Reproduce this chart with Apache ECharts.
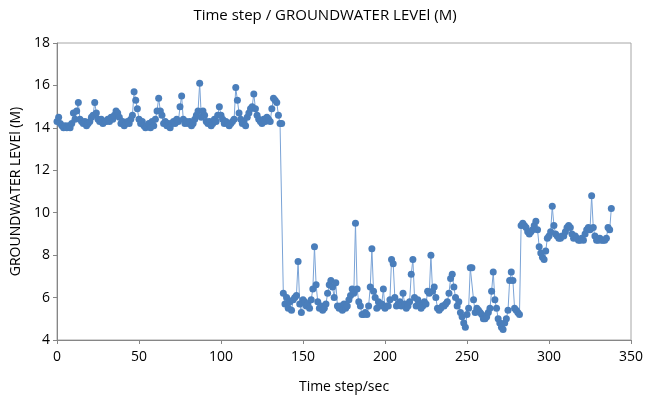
<!DOCTYPE html>
<html>
<head>
<meta charset="utf-8">
<title>Groundwater level</title>
<script src="https://cdn.jsdelivr.net/npm/echarts@6/dist/echarts.min.js"></script>
<style>
html,body{margin:0;padding:0;background:#fff;}
#chart{width:650px;height:399px;}
</style>
</head>
<body>
<div id="chart"></div>
<script>
// levels, one per time step
var phaseHigh = [ // t = 0..137
	14.3,14.5,14.2,14.1,14.0,14.1,14.0,14.1,14.0,14.2,
	14.7,14.4,14.8,15.2,14.4,14.3,14.2,14.3,14.1,14.2,
	14.3,14.5,14.6,15.2,14.7,14.4,14.3,14.4,14.2,14.3,
	14.3,14.4,14.3,14.5,14.4,14.6,14.8,14.7,14.5,14.2,
	14.3,14.1,14.2,14.3,14.2,14.4,14.6,15.7,15.3,14.9,
	14.4,14.2,14.3,14.1,14.0,14.1,14.2,14.0,14.3,14.1,
	14.4,14.8,15.4,14.8,14.6,14.2,14.3,14.1,14.2,14.0,
	14.2,14.3,14.2,14.4,14.3,15.0,15.5,14.4,14.2,14.3,
	14.2,14.3,14.1,14.2,14.4,14.6,14.8,16.1,14.5,14.8,
	14.6,14.3,14.2,14.3,14.1,14.2,14.4,14.3,14.6,15.0,
	14.6,14.4,14.2,14.3,14.2,14.1,14.2,14.3,14.4,15.9,
	15.3,14.7,14.4,14.2,14.3,14.1,14.5,14.7,14.9,15.0,
	15.6,14.9,14.6,14.4,14.3,14.2,14.4,14.3,14.5,14.4,
	14.3,14.9,15.4,15.3,15.2,14.6,14.2,14.2
];
var phaseLow = [ // t = 138..283
	6.2,5.7,6.0,5.5,5.8,5.4,5.9,6.0,6.1,7.7,
	5.7,5.3,5.9,5.8,5.6,5.7,5.5,5.9,6.4,8.4,
	6.6,5.8,5.5,5.6,5.4,5.5,5.7,6.2,6.6,6.8,
	6.5,6.0,6.7,5.6,5.5,5.6,5.4,5.7,5.5,5.6,
	5.9,6.1,6.4,6.2,9.5,6.4,5.8,5.6,5.2,5.2,
	5.3,5.2,5.6,6.5,8.3,6.3,6.0,5.5,5.8,5.6,
	5.7,6.4,5.5,5.6,5.6,5.9,7.8,7.6,6.0,5.6,
	5.7,5.8,5.6,6.2,5.7,5.5,5.6,5.8,7.1,7.8,
	6.0,5.6,5.9,5.7,5.5,5.6,5.8,5.7,6.3,6.2,
	8.0,6.3,6.5,6.0,5.5,5.4,5.5,5.6,5.6,5.7,
	5.8,6.2,6.9,7.1,6.5,6.0,5.6,5.8,5.3,5.1,
	4.8,4.6,5.2,5.5,7.4,7.4,5.9,5.3,5.5,5.4,
	5.3,5.2,5.0,5.0,5.1,5.3,5.5,6.3,7.2,5.9,
	5.5,5.0,4.8,4.6,4.5,4.8,5.0,5.4,6.8,7.2,
	6.8,5.5,5.4,5.3,5.2,9.4
];
var phaseMid = [ // t = 284..338
	9.5,9.4,9.3,9.1,9.0,9.1,9.2,9.4,9.6,9.2,
	8.4,8.1,7.9,7.8,8.2,8.8,8.9,9.1,10.3,9.4,
	9.0,8.9,8.8,8.8,8.9,8.9,9.1,9.3,9.4,9.3,
	9.0,8.8,8.9,8.8,8.7,8.7,8.8,8.7,9.0,9.2,
	9.3,9.2,10.8,9.3,8.9,8.7,8.7,8.8,8.7,8.7,
	8.7,8.8,9.3,9.2,10.2
];
var xTicks = [0, 50, 100, 150, 200, 250, 300, 350];
var yTicks = [4, 6, 8, 10, 12, 14, 16, 18];

var levels = phaseHigh.concat(phaseLow, phaseMid);
var points = [];
for (var i = 0; i < levels.length; i++) {
	points.push([i, levels[i]]);
}

var font = "'Open Sans', 'Noto Sans', sans-serif";
var chart = echarts.init(document.getElementById('chart'), null, {renderer: 'canvas'});
var option = {
	animation: false,
	title: {
		text: 'Time step / GROUNDWATER LEVEl (M)',
		left: 'center',
		top: 3,
		textStyle: {fontFamily: font, fontSize: 15, fontWeight: 'normal', color: '#000'}
	},
	grid: {
		show: true,
		left: 57, right: 19, top: 43, bottom: 56,
		borderColor: '#a6a6a6', borderWidth: 1,
		containLabel: false
	},
	xAxis: {
		type: 'value',
		min: xTicks[0], max: xTicks[xTicks.length - 1], interval: 50,
		name: 'Time step/sec',
		nameLocation: 'middle',
		nameGap: 40,
		nameTextStyle: {fontFamily: font, fontSize: 14, color: '#000'},
		axisLine: {show: true, lineStyle: {color: '#868686'}},
		axisTick: {show: true, inside: false, length: 4, lineStyle: {color: '#868686'}},
		axisLabel: {fontFamily: font, fontSize: 14, color: '#000', margin: 10},
		splitLine: {show: false}
	},
	yAxis: {
		type: 'value',
		min: yTicks[0], max: yTicks[yTicks.length - 1], interval: 2,
		name: 'GROUNDWATER LEVEl (M)',
		nameLocation: 'middle',
		nameGap: 32,
		nameTextStyle: {fontFamily: font, fontSize: 14, color: '#000'},
		axisLine: {show: true, lineStyle: {color: '#868686'}},
		axisTick: {show: true, inside: false, length: 4, lineStyle: {color: '#868686'}},
		axisLabel: {fontFamily: font, fontSize: 14, color: '#000', margin: 7},
		splitLine: {show: false}
	},
	series: [{
		name: 'Groundwater level',
		type: 'line',
		data: points,
		symbol: 'circle',
		symbolSize: 7,
		showAllSymbol: true,
		itemStyle: {color: '#4a7ebb'},
		lineStyle: {color: '#7aa3d6', width: 1}
	}]
};
chart.setOption(option);
</script>
</body>
</html>
